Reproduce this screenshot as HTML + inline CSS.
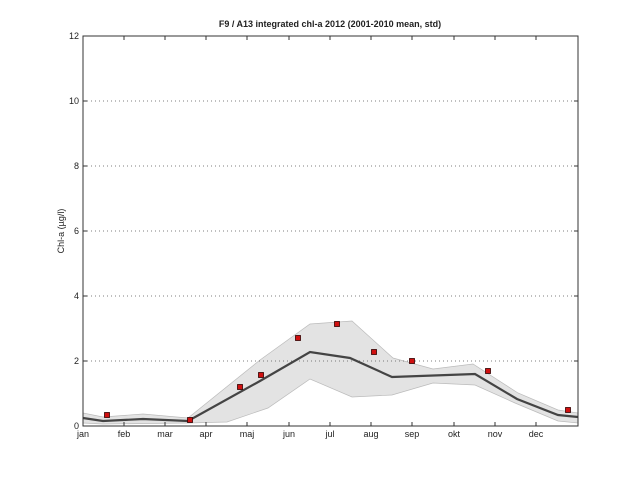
<!DOCTYPE html><html><head><style>body{margin:0;background:#fff}svg{display:block}text{font-family:"Liberation Sans",sans-serif;font-size:9px;fill:#222}</style></head><body>
<svg width="639" height="479" viewBox="0 0 639 479">
<rect width="639" height="479" fill="#fff"/>
<polygon fill="#e3e3e3" stroke="#bbb" stroke-width="0.7" points="83,413 103,417 143,414 188,418 260,360 310,324 352,321 393,358 433,369 473,364 518,393 558,410 578,413 578,423 558,421 515,403 475,385 433,383 392,395 352,397 310,379 268,408 227,422 188,423 103,424 83,423"/>
<g stroke="#555" stroke-dasharray="1,3" stroke-width="0.8">
<line x1="83" x2="578" y1="361" y2="361"/><line x1="83" x2="578" y1="296" y2="296"/><line x1="83" x2="578" y1="231" y2="231"/><line x1="83" x2="578" y1="166" y2="166"/><line x1="83" x2="578" y1="101" y2="101"/></g>
<polyline fill="none" stroke="#444" stroke-width="2.2" points="83,418 103,421 143,419 188,421 260,381 310,352 350,358 392,377 475,374 517,399 558,415 578,417"/>
<g fill="#d01010" stroke="#300" stroke-width="0.8">
<rect x="104.5" y="412.5" width="5" height="5"/><rect x="187.5" y="417.5" width="5" height="5"/><rect x="237.5" y="384.5" width="5" height="5"/><rect x="258.5" y="372.5" width="5" height="5"/><rect x="295.5" y="335.5" width="5" height="5"/><rect x="334.5" y="321.5" width="5" height="5"/><rect x="371.5" y="349.5" width="5" height="5"/><rect x="409.5" y="358.5" width="5" height="5"/><rect x="485.5" y="368.5" width="5" height="5"/><rect x="565.5" y="407.5" width="5" height="5"/></g>
<rect x="83" y="36" width="495" height="390" fill="none" stroke="#333" stroke-width="1"/>
<g stroke="#333" stroke-width="1">
<path d="M124,426v-4M165,426v-4M206,426v-4M247,426v-4M289,426v-4M330,426v-4M371,426v-4M412,426v-4M454,426v-4M495,426v-4M536,426v-4M124,36v4M165,36v4M206,36v4M247,36v4M289,36v4M330,36v4M371,36v4M412,36v4M454,36v4M495,36v4M536,36v4"/>
<path d="M83,361h4M83,296h4M83,231h4M83,166h4M83,101h4M578,361h-4M578,296h-4M578,231h-4M578,166h-4M578,101h-4"/></g>
<g text-anchor="middle"><text x="83" y="437">jan</text><text x="124" y="437">feb</text><text x="165" y="437">mar</text><text x="206" y="437">apr</text><text x="247" y="437">maj</text><text x="289" y="437">jun</text><text x="330" y="437">jul</text><text x="371" y="437">aug</text><text x="412" y="437">sep</text><text x="454" y="437">okt</text><text x="495" y="437">nov</text><text x="536" y="437">dec</text></g>
<g text-anchor="end"><text x="79" y="429">0</text><text x="79" y="364">2</text><text x="79" y="299">4</text><text x="79" y="234">6</text><text x="79" y="169">8</text><text x="79" y="104">10</text><text x="79" y="39">12</text></g>
<text x="64" y="231" text-anchor="middle" transform="rotate(-90 64 231)">Chl-a (µg/l)</text>
<text x="330" y="27" text-anchor="middle" font-weight="bold">F9 / A13 integrated chl-a 2012 (2001-2010 mean, std)</text>
</svg></body></html>
